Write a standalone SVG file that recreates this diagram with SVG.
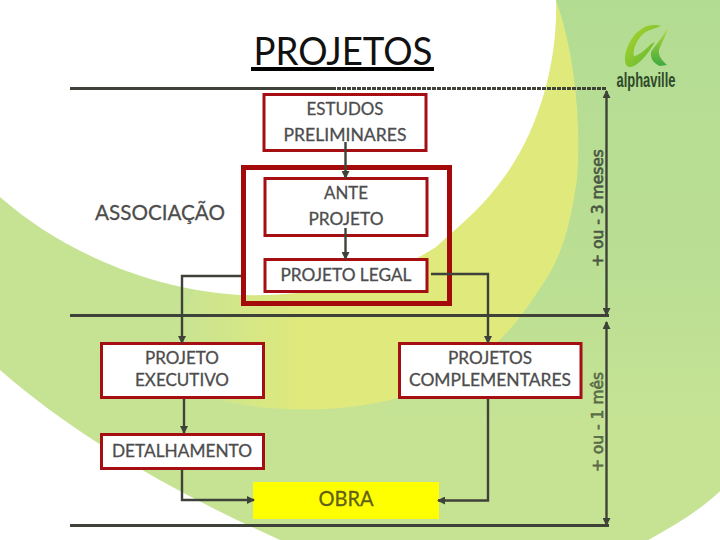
<svg xmlns="http://www.w3.org/2000/svg" width="720" height="540" viewBox="0 0 720 540">
<style>
.b{fill:#fff;stroke:#a50f14;stroke-width:3}
.t{font-family:"Lato","Liberation Sans",sans-serif;font-size:18px;fill:#4d4d4d;stroke:#4d4d4d;stroke-width:.3;text-anchor:middle}
.h{font-family:"Lato","Liberation Sans",sans-serif;text-anchor:middle}
.r{font-family:"DejaVu Sans",sans-serif;font-size:15.500px;stroke-width:.6;text-anchor:middle}
.c{fill:none;stroke:#3f4238;stroke-width:2.4}
.l{fill:none;stroke:#3f4238;stroke-width:3}
</style>
<defs>
<marker id="a" viewBox="0 0 8 8" refX="7" refY="4" markerWidth="8" markerHeight="8" markerUnits="userSpaceOnUse" orient="auto"><path d="M0 0L8 4L0 8Z" fill="#3f4238"/></marker>
<marker id="s" viewBox="0 0 8 8" refX="7" refY="4" markerWidth="8" markerHeight="8" markerUnits="userSpaceOnUse" orient="auto-start-reverse"><path d="M0 0L8 4L0 8Z" fill="#3f4238"/></marker>
<linearGradient id="g" gradientUnits="userSpaceOnUse" x1="0" y1="0" x2="0" y2="420"><stop offset="0" stop-color="#b3dc93"/><stop offset=".7" stop-color="#bbdf93"/><stop offset="1" stop-color="#c6e394"/></linearGradient>
<linearGradient id="y" gradientUnits="userSpaceOnUse" x1="170" y1="0" x2="300" y2="0"><stop offset="0" stop-color="#c6e394"/><stop offset="1" stop-color="#dfe97c"/></linearGradient>
<linearGradient id="al" x1="0" y1="0" x2="1" y2="1"><stop offset="0" stop-color="#b5d62a"/><stop offset="1" stop-color="#54b436"/></linearGradient>
<linearGradient id="al2" x1="0" y1="0" x2="0" y2="1"><stop offset="0" stop-color="#bcd93a"/><stop offset="1" stop-color="#3eaa3e"/></linearGradient>
</defs>
<rect width="720" height="540" fill="#fff"/>
<g id="background">
<path d="M0 197V370C80 440 180 495 280 540H648C675 525 700 510 720 491V0H540Z" fill="#c6e394"/>
<path d="M556 0C574 50 582 120 577 180C570 225 565 245 550 273C530 305 515 325 500 340C470 370 440 385 413 393C370 408 320 412 270 408C230 405 190 395 150 375L200 280L400 200Z" fill="url(#y)"/>
<path d="M556 0H720V491C700 510 675 525 648 540H470L380 408C400 400 440 385 470 365C485 355 495 345 500 340C515 325 530 305 550 273C565 245 570 225 577 180C582 120 574 50 556 0Z" fill="url(#g)"/>
<path d="M0 0H556C558 60 540 130 502 180C480 210 460 225 436 247C385 280 320 297 240 295C150 290 60 250 0 197Z" fill="#fff"/>
</g>
<g id="logo">
<path d="M661 26C641 20 625 42 625 60C625 68 631 69 637 64C645 58 650 50 655 42L651 44C645 50 638 56 634 56C632 50 638 34 650 30C655 28 658 27 661 26Z" fill="url(#al)"/>
<path d="M668 27C664 36 656 44 651 52C650 60 655 64 660 66L667 65C662 60 658 56 659 50C662 42 666 36 668 27Z" fill="url(#al2)"/>
<text x="646" y="87" style="font-family:'Liberation Sans','Lato',sans-serif;font-size:20px;font-weight:700;fill:#2f4a2a;text-anchor:middle" textLength="59" lengthAdjust="spacingAndGlyphs">alphaville</text>
</g>
<g id="title"><text class="h" x="343" y="65" style="font-size:38px;fill:#111" textLength="179" lengthAdjust="spacingAndGlyphs">PROJETOS</text>
<rect x="251" y="67" width="183" height="4" fill="#000"/></g>
<g id="associacao-box"><rect x="243.500" y="167.500" width="206" height="136" fill="none" stroke="#a50a0a" stroke-width="5"/></g>
<g id="estudos"><rect class="b" x="264" y="94.500" width="162" height="56"/><text class="t"><tspan x="345" y="115" textLength="77" lengthAdjust="spacingAndGlyphs">ESTUDOS</tspan><tspan x="345" y="141" textLength="123" lengthAdjust="spacingAndGlyphs">PRELIMINARES</tspan></text></g>
<g id="ante"><rect class="b" x="265" y="178.500" width="162" height="57"/><text class="t"><tspan x="346" y="199" textLength="44" lengthAdjust="spacingAndGlyphs">ANTE</tspan><tspan x="346" y="225" textLength="75" lengthAdjust="spacingAndGlyphs">PROJETO</tspan></text></g>
<g id="legal"><rect class="b" x="265" y="259.500" width="162" height="32"/><text class="t" x="346" y="281" textLength="131" lengthAdjust="spacingAndGlyphs">PROJETO LEGAL</text></g>
<g id="executivo"><rect class="b" x="101.500" y="343.500" width="162" height="54"/><text class="t"><tspan x="182" y="364" textLength="74" lengthAdjust="spacingAndGlyphs">PROJETO</tspan><tspan x="182" y="386" textLength="94" lengthAdjust="spacingAndGlyphs">EXECUTIVO</tspan></text></g>
<g id="complementares"><rect class="b" x="399.500" y="343.500" width="181.500" height="54"/><text class="t"><tspan x="490" y="364" textLength="84" lengthAdjust="spacingAndGlyphs">PROJETOS</tspan><tspan x="490" y="386" textLength="162" lengthAdjust="spacingAndGlyphs">COMPLEMENTARES</tspan></text></g>
<g id="detalhamento"><rect class="b" x="101.500" y="434.500" width="162" height="34"/><text class="t" x="182" y="457" textLength="140" lengthAdjust="spacingAndGlyphs">DETALHAMENTO</text></g>
<g id="obra"><rect x="253" y="482" width="186" height="37" fill="#ff0"/><text class="h" x="346" y="506" style="font-size:22px;fill:#5f5f18;stroke:#5f5f18;stroke-width:.3" textLength="55" lengthAdjust="spacingAndGlyphs">OBRA</text></g>
<g id="associacao"><text class="h" x="160" y="220" style="font-size:22px;fill:#4d4d4d;stroke:#4d4d4d;stroke-width:.3" textLength="130" lengthAdjust="spacingAndGlyphs">ASSOCIAÇÃO</text></g>
<g id="tempo">
<text class="r" transform="translate(603,208) rotate(-90)" style="fill:#4a5644;stroke:#4a5644">+ ou - 3 meses</text>
<text class="r" transform="translate(603,422) rotate(-90)" style="fill:#5a6b48;stroke:#5a6b48">+ ou - 1 mês</text>
</g>
<g id="connectors">
<path d="M70 88.500H332M70 315.500H609M70 525.500H609" class="l"/>
<path d="M332 88.500H607" class="l" stroke-dasharray="4 1"/>
<path d="M345.500 142V178" class="c" marker-end="url(#a)"/>
<path d="M345.500 228V259" class="c" marker-end="url(#a)"/>
<path d="M241 276H182V343" class="c" marker-end="url(#a)"/>
<path d="M431 274H488V343" class="c" marker-end="url(#a)"/>
<path d="M184 399V433" class="c" marker-end="url(#a)"/>
<path d="M182 470V500H254" class="c" marker-end="url(#a)"/>
<path d="M488 399V500.500H438" class="c" marker-end="url(#a)"/>
<path d="M606.500 91V315" class="c" marker-start="url(#s)" marker-end="url(#a)"/>
<path d="M606.500 322V525" class="c" marker-start="url(#s)" marker-end="url(#a)"/>
</g>
</svg>
